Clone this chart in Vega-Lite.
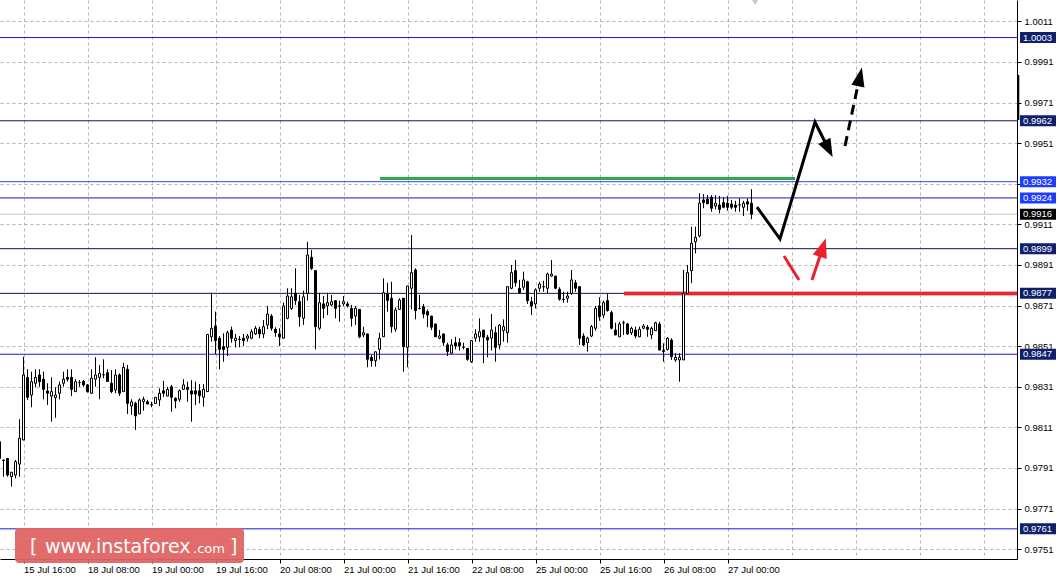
{
"$schema":"https://vega.github.io/schema/vega-lite/v6.json",
"width":1017,"height":559,
"autosize":{"type":"none"},
"padding":{"left":0,"top":0,"right":42,"bottom":19},
"background":"white",
"config":{"view":{"stroke":null},"font":"Liberation Sans"},
"datasets":{
"candles":[
{"i":-1,"o":0.98039,"h":0.98048,"l":0.97900,"c":0.97957},
{"i":0,"o":0.97949,"h":0.97950,"l":0.97867,"c":0.97947},
{"i":1,"o":0.97957,"h":0.97958,"l":0.97867,"c":0.97875},
{"i":2,"o":0.97867,"h":0.97889,"l":0.97818,"c":0.97889},
{"i":3,"o":0.97875,"h":0.97949,"l":0.97859,"c":0.97941},
{"i":4,"o":0.97929,"h":0.98150,"l":0.97867,"c":0.98056},
{"i":5,"o":0.98048,"h":0.98458,"l":0.98046,"c":0.98368},
{"i":6,"o":0.98356,"h":0.98396,"l":0.98245,"c":0.98258},
{"i":7,"o":0.98269,"h":0.98384,"l":0.98209,"c":0.98335},
{"i":8,"o":0.98327,"h":0.98396,"l":0.98307,"c":0.98356},
{"i":9,"o":0.98368,"h":0.98396,"l":0.98310,"c":0.98335},
{"i":10,"o":0.98347,"h":0.98384,"l":0.98248,"c":0.98297},
{"i":11,"o":0.98289,"h":0.98327,"l":0.98220,"c":0.98278},
{"i":12,"o":0.98264,"h":0.98356,"l":0.98138,"c":0.98286},
{"i":13,"o":0.98256,"h":0.98307,"l":0.98157,"c":0.98269},
{"i":14,"o":0.98278,"h":0.98335,"l":0.98248,"c":0.98319},
{"i":15,"o":0.98327,"h":0.98384,"l":0.98310,"c":0.98347},
{"i":16,"o":0.98356,"h":0.98396,"l":0.98335,"c":0.98347},
{"i":17,"o":0.98356,"h":0.98396,"l":0.98264,"c":0.98297},
{"i":18,"o":0.98286,"h":0.98347,"l":0.98285,"c":0.98335},
{"i":19,"o":0.98330,"h":0.98343,"l":0.98310,"c":0.98331},
{"i":20,"o":0.98337,"h":0.98343,"l":0.98310,"c":0.98319},
{"i":21,"o":0.98319,"h":0.98323,"l":0.98281,"c":0.98286},
{"i":22,"o":0.98278,"h":0.98396,"l":0.98274,"c":0.98352},
{"i":23,"o":0.98347,"h":0.98455,"l":0.98310,"c":0.98368},
{"i":24,"o":0.98356,"h":0.98417,"l":0.98248,"c":0.98376},
{"i":25,"o":0.98368,"h":0.98445,"l":0.98352,"c":0.98369},
{"i":26,"o":0.98379,"h":0.98396,"l":0.98335,"c":0.98336},
{"i":27,"o":0.98327,"h":0.98392,"l":0.98278,"c":0.98286},
{"i":28,"o":0.98294,"h":0.98396,"l":0.98278,"c":0.98368},
{"i":29,"o":0.98368,"h":0.98376,"l":0.98264,"c":0.98278},
{"i":30,"o":0.98286,"h":0.98428,"l":0.98285,"c":0.98406},
{"i":31,"o":0.98396,"h":0.98417,"l":0.98176,"c":0.98228},
{"i":32,"o":0.98215,"h":0.98248,"l":0.98171,"c":0.98236},
{"i":33,"o":0.98228,"h":0.98236,"l":0.98097,"c":0.98166},
{"i":34,"o":0.98176,"h":0.98253,"l":0.98175,"c":0.98245},
{"i":35,"o":0.98236,"h":0.98261,"l":0.98192,"c":0.98248},
{"i":36,"o":0.98236,"h":0.98245,"l":0.98224,"c":0.98225},
{"i":37,"o":0.98220,"h":0.98236,"l":0.98209,"c":0.98221},
{"i":38,"o":0.98228,"h":0.98259,"l":0.98227,"c":0.98258},
{"i":39,"o":0.98245,"h":0.98302,"l":0.98215,"c":0.98278},
{"i":40,"o":0.98290,"h":0.98340,"l":0.98261,"c":0.98278},
{"i":41,"o":0.98264,"h":0.98310,"l":0.98263,"c":0.98297},
{"i":42,"o":0.98310,"h":0.98319,"l":0.98187,"c":0.98258},
{"i":43,"o":0.98253,"h":0.98258,"l":0.98204,"c":0.98241},
{"i":44,"o":0.98248,"h":0.98297,"l":0.98236,"c":0.98290},
{"i":45,"o":0.98297,"h":0.98347,"l":0.98294,"c":0.98319},
{"i":46,"o":0.98307,"h":0.98335,"l":0.98236,"c":0.98297},
{"i":47,"o":0.98290,"h":0.98343,"l":0.98138,"c":0.98274},
{"i":48,"o":0.98290,"h":0.98335,"l":0.98220,"c":0.98274},
{"i":49,"o":0.98290,"h":0.98323,"l":0.98228,"c":0.98266},
{"i":50,"o":0.98258,"h":0.98323,"l":0.98212,"c":0.98297},
{"i":51,"o":0.98286,"h":0.98569,"l":0.98285,"c":0.98568},
{"i":52,"o":0.98556,"h":0.98773,"l":0.98532,"c":0.98598},
{"i":53,"o":0.98609,"h":0.98680,"l":0.98471,"c":0.98537},
{"i":54,"o":0.98549,"h":0.98560,"l":0.98396,"c":0.98494},
{"i":55,"o":0.98507,"h":0.98573,"l":0.98433,"c":0.98494},
{"i":56,"o":0.98504,"h":0.98586,"l":0.98461,"c":0.98576},
{"i":57,"o":0.98589,"h":0.98606,"l":0.98527,"c":0.98549},
{"i":58,"o":0.98537,"h":0.98570,"l":0.98504,"c":0.98549},
{"i":59,"o":0.98544,"h":0.98560,"l":0.98504,"c":0.98543},
{"i":60,"o":0.98549,"h":0.98570,"l":0.98511,"c":0.98537},
{"i":61,"o":0.98549,"h":0.98570,"l":0.98532,"c":0.98560},
{"i":62,"o":0.98549,"h":0.98593,"l":0.98544,"c":0.98581},
{"i":63,"o":0.98570,"h":0.98609,"l":0.98565,"c":0.98598},
{"i":64,"o":0.98593,"h":0.98606,"l":0.98549,"c":0.98570},
{"i":65,"o":0.98570,"h":0.98639,"l":0.98549,"c":0.98606},
{"i":66,"o":0.98614,"h":0.98708,"l":0.98593,"c":0.98668},
{"i":67,"o":0.98658,"h":0.98668,"l":0.98586,"c":0.98598},
{"i":68,"o":0.98593,"h":0.98603,"l":0.98556,"c":0.98576},
{"i":69,"o":0.98570,"h":0.98598,"l":0.98511,"c":0.98556},
{"i":70,"o":0.98549,"h":0.98724,"l":0.98548,"c":0.98708},
{"i":71,"o":0.98647,"h":0.98795,"l":0.98642,"c":0.98757},
{"i":72,"o":0.98696,"h":0.98795,"l":0.98688,"c":0.98753},
{"i":73,"o":0.98770,"h":0.98893,"l":0.98713,"c":0.98734},
{"i":74,"o":0.98729,"h":0.98762,"l":0.98606,"c":0.98655},
{"i":75,"o":0.98647,"h":0.98783,"l":0.98614,"c":0.98753},
{"i":76,"o":0.98770,"h":0.99024,"l":0.98734,"c":0.98959},
{"i":77,"o":0.98948,"h":0.98984,"l":0.98885,"c":0.98893},
{"i":78,"o":0.98882,"h":0.98885,"l":0.98494,"c":0.98606},
{"i":79,"o":0.98598,"h":0.98773,"l":0.98589,"c":0.98724},
{"i":80,"o":0.98718,"h":0.98757,"l":0.98647,"c":0.98696},
{"i":81,"o":0.98708,"h":0.98773,"l":0.98663,"c":0.98724},
{"i":82,"o":0.98713,"h":0.98762,"l":0.98708,"c":0.98729},
{"i":83,"o":0.98734,"h":0.98737,"l":0.98647,"c":0.98696},
{"i":84,"o":0.98708,"h":0.98734,"l":0.98630,"c":0.98707},
{"i":85,"o":0.98718,"h":0.98757,"l":0.98708,"c":0.98729},
{"i":86,"o":0.98718,"h":0.98729,"l":0.98701,"c":0.98708},
{"i":87,"o":0.98696,"h":0.98713,"l":0.98606,"c":0.98647},
{"i":88,"o":0.98658,"h":0.98708,"l":0.98614,"c":0.98696},
{"i":89,"o":0.98691,"h":0.98692,"l":0.98549,"c":0.98556},
{"i":90,"o":0.98565,"h":0.98606,"l":0.98554,"c":0.98576},
{"i":91,"o":0.98570,"h":0.98571,"l":0.98406,"c":0.98445},
{"i":92,"o":0.98455,"h":0.98466,"l":0.98409,"c":0.98438},
{"i":93,"o":0.98438,"h":0.98483,"l":0.98409,"c":0.98482},
{"i":94,"o":0.98494,"h":0.98576,"l":0.98445,"c":0.98549},
{"i":95,"o":0.98556,"h":0.98844,"l":0.98555,"c":0.98773},
{"i":96,"o":0.98767,"h":0.98822,"l":0.98680,"c":0.98734},
{"i":97,"o":0.98746,"h":0.98827,"l":0.98576,"c":0.98606},
{"i":98,"o":0.98593,"h":0.98701,"l":0.98581,"c":0.98688},
{"i":99,"o":0.98691,"h":0.98746,"l":0.98688,"c":0.98737},
{"i":100,"o":0.98746,"h":0.98747,"l":0.98384,"c":0.98507},
{"i":101,"o":0.98504,"h":0.98807,"l":0.98406,"c":0.98806},
{"i":102,"o":0.98795,"h":0.99057,"l":0.98691,"c":0.98872},
{"i":103,"o":0.98885,"h":0.98893,"l":0.98642,"c":0.98685},
{"i":104,"o":0.98696,"h":0.98762,"l":0.98691,"c":0.98695},
{"i":105,"o":0.98704,"h":0.98718,"l":0.98647,"c":0.98668},
{"i":106,"o":0.98680,"h":0.98691,"l":0.98603,"c":0.98663},
{"i":107,"o":0.98658,"h":0.98659,"l":0.98589,"c":0.98603},
{"i":108,"o":0.98619,"h":0.98620,"l":0.98554,"c":0.98556},
{"i":109,"o":0.98549,"h":0.98589,"l":0.98544,"c":0.98560},
{"i":110,"o":0.98570,"h":0.98571,"l":0.98511,"c":0.98527},
{"i":111,"o":0.98516,"h":0.98527,"l":0.98461,"c":0.98483},
{"i":112,"o":0.98475,"h":0.98544,"l":0.98471,"c":0.98516},
{"i":113,"o":0.98527,"h":0.98556,"l":0.98494,"c":0.98511},
{"i":114,"o":0.98527,"h":0.98549,"l":0.98488,"c":0.98511},
{"i":115,"o":0.98504,"h":0.98527,"l":0.98494,"c":0.98505},
{"i":116,"o":0.98499,"h":0.98500,"l":0.98438,"c":0.98445},
{"i":117,"o":0.98433,"h":0.98538,"l":0.98428,"c":0.98537},
{"i":118,"o":0.98549,"h":0.98593,"l":0.98532,"c":0.98570},
{"i":119,"o":0.98556,"h":0.98647,"l":0.98532,"c":0.98581},
{"i":120,"o":0.98589,"h":0.98590,"l":0.98425,"c":0.98554},
{"i":121,"o":0.98554,"h":0.98565,"l":0.98455,"c":0.98540},
{"i":122,"o":0.98549,"h":0.98668,"l":0.98488,"c":0.98589},
{"i":123,"o":0.98576,"h":0.98606,"l":0.98433,"c":0.98504},
{"i":124,"o":0.98516,"h":0.98619,"l":0.98494,"c":0.98614},
{"i":125,"o":0.98586,"h":0.98642,"l":0.98532,"c":0.98606},
{"i":126,"o":0.98576,"h":0.98804,"l":0.98527,"c":0.98803},
{"i":127,"o":0.98795,"h":0.98910,"l":0.98790,"c":0.98872},
{"i":128,"o":0.98882,"h":0.98934,"l":0.98803,"c":0.98822},
{"i":129,"o":0.98795,"h":0.98836,"l":0.98767,"c":0.98773},
{"i":130,"o":0.98800,"h":0.98877,"l":0.98787,"c":0.98836},
{"i":131,"o":0.98827,"h":0.98832,"l":0.98718,"c":0.98734},
{"i":132,"o":0.98729,"h":0.98753,"l":0.98663,"c":0.98708},
{"i":133,"o":0.98718,"h":0.98795,"l":0.98696,"c":0.98787},
{"i":134,"o":0.98795,"h":0.98827,"l":0.98778,"c":0.98816},
{"i":135,"o":0.98803,"h":0.98832,"l":0.98778,"c":0.98802},
{"i":136,"o":0.98795,"h":0.98872,"l":0.98770,"c":0.98865},
{"i":137,"o":0.98855,"h":0.98934,"l":0.98852,"c":0.98865},
{"i":138,"o":0.98855,"h":0.98856,"l":0.98790,"c":0.98795},
{"i":139,"o":0.98790,"h":0.98800,"l":0.98734,"c":0.98741},
{"i":140,"o":0.98741,"h":0.98778,"l":0.98724,"c":0.98740},
{"i":141,"o":0.98746,"h":0.98778,"l":0.98724,"c":0.98757},
{"i":142,"o":0.98770,"h":0.98885,"l":0.98762,"c":0.98836},
{"i":143,"o":0.98822,"h":0.98836,"l":0.98778,"c":0.98795},
{"i":144,"o":0.98803,"h":0.98804,"l":0.98516,"c":0.98549},
{"i":145,"o":0.98560,"h":0.98573,"l":0.98511,"c":0.98516},
{"i":146,"o":0.98527,"h":0.98556,"l":0.98483,"c":0.98549},
{"i":147,"o":0.98560,"h":0.98614,"l":0.98554,"c":0.98606},
{"i":148,"o":0.98598,"h":0.98708,"l":0.98586,"c":0.98696},
{"i":149,"o":0.98708,"h":0.98751,"l":0.98635,"c":0.98655},
{"i":150,"o":0.98663,"h":0.98734,"l":0.98647,"c":0.98724},
{"i":151,"o":0.98734,"h":0.98767,"l":0.98680,"c":0.98685},
{"i":152,"o":0.98675,"h":0.98685,"l":0.98593,"c":0.98598},
{"i":153,"o":0.98589,"h":0.98625,"l":0.98564,"c":0.98565},
{"i":154,"o":0.98556,"h":0.98630,"l":0.98554,"c":0.98619},
{"i":155,"o":0.98625,"h":0.98635,"l":0.98565,"c":0.98624},
{"i":156,"o":0.98619,"h":0.98625,"l":0.98565,"c":0.98570},
{"i":157,"o":0.98576,"h":0.98606,"l":0.98565,"c":0.98598},
{"i":158,"o":0.98589,"h":0.98606,"l":0.98549,"c":0.98560},
{"i":159,"o":0.98556,"h":0.98606,"l":0.98554,"c":0.98593},
{"i":160,"o":0.98598,"h":0.98619,"l":0.98593,"c":0.98609},
{"i":161,"o":0.98603,"h":0.98614,"l":0.98556,"c":0.98593},
{"i":162,"o":0.98565,"h":0.98606,"l":0.98544,"c":0.98598},
{"i":163,"o":0.98586,"h":0.98630,"l":0.98585,"c":0.98625},
{"i":164,"o":0.98619,"h":0.98630,"l":0.98488,"c":0.98491},
{"i":165,"o":0.98488,"h":0.98524,"l":0.98433,"c":0.98483},
{"i":166,"o":0.98494,"h":0.98554,"l":0.98488,"c":0.98549},
{"i":167,"o":0.98540,"h":0.98549,"l":0.98442,"c":0.98458},
{"i":168,"o":0.98442,"h":0.98475,"l":0.98433,"c":0.98455},
{"i":169,"o":0.98442,"h":0.98475,"l":0.98335,"c":0.98455},
{"i":170,"o":0.98442,"h":0.98885,"l":0.98441,"c":0.98770},
{"i":171,"o":0.98770,"h":0.98910,"l":0.98769,"c":0.98872},
{"i":172,"o":0.98882,"h":0.99098,"l":0.98820,"c":0.99017},
{"i":173,"o":0.99024,"h":0.99098,"l":0.98967,"c":0.99046},
{"i":174,"o":0.99053,"h":0.99263,"l":0.99046,"c":0.99214},
{"i":175,"o":0.99230,"h":0.99259,"l":0.99189,"c":0.99217},
{"i":176,"o":0.99233,"h":0.99254,"l":0.99210,"c":0.99211},
{"i":177,"o":0.99243,"h":0.99254,"l":0.99172,"c":0.99189},
{"i":178,"o":0.99200,"h":0.99254,"l":0.99184,"c":0.99214},
{"i":179,"o":0.99205,"h":0.99250,"l":0.99164,"c":0.99184},
{"i":180,"o":0.99217,"h":0.99243,"l":0.99189,"c":0.99194},
{"i":181,"o":0.99214,"h":0.99250,"l":0.99177,"c":0.99194},
{"i":182,"o":0.99210,"h":0.99230,"l":0.99184,"c":0.99194},
{"i":183,"o":0.99205,"h":0.99226,"l":0.99172,"c":0.99194},
{"i":184,"o":0.99205,"h":0.99238,"l":0.99172,"c":0.99206},
{"i":185,"o":0.99194,"h":0.99226,"l":0.99151,"c":0.99214},
{"i":186,"o":0.99221,"h":0.99238,"l":0.99177,"c":0.99210},
{"i":187,"o":0.99214,"h":0.99283,"l":0.99135,"c":0.99160}
],
"levels":[
{"p":1.0003,"line":"A","tag":"N"},
{"p":0.9962,"line":"D","tag":"N"},
{"p":0.9932,"line":"B","tag":"B"},
{"p":0.9924,"line":"A","tag":"B"},
{"p":0.9916,"line":"G","tag":"K"},
{"p":0.9899,"line":"D","tag":"N"},
{"p":0.9877,"line":"D","tag":"N"},
{"p":0.9847,"line":"A","tag":"N"},
{"p":0.9761,"line":"A","tag":"N"}
],
"zones":[
{"zone":"green","x":94.125,"x2":197.875,"p":0.99336},
{"zone":"red","x":155.125,"x2":253.375,"p":0.98769}
],
"solid":[
{"k":0,"x":188.375,"y":0.99195},
{"k":1,"x":194.125,"y":0.99038},
{"k":2,"x":202.875,"y":0.99614},
{"k":3,"x":206.25,"y":0.99481}
],
"dashed":[
{"k":0,"x":210.375,"y":0.99496},
{"k":1,"x":213.5,"y":0.99786}
],
"red1":[
{"k":0,"x":195.125,"y":0.98954},
{"k":1,"x":198.875,"y":0.98836}
],
"red2":[
{"k":0,"x":202.125,"y":0.98836},
{"k":1,"x":204.825,"y":0.98996}
]
},
"layer":[
{"data":{"name":"levels"},
 "mark":{"type":"rule","strokeWidth":1},
 "encoding":{
  "y":{"field":"p","type":"quantitative","title":null,"scale":{"domain":[0.974614,1.00215],"nice":false,"zero":false,"padding":0},
   "axis":{"orient":"right","title":null,"values":[0.9751,0.9771,0.9791,0.9811,0.9831,0.9851,0.9871,0.9891,0.9911,0.9931,0.9951,0.9971,0.9991,1.0011],"format":".4f","grid":true,"gridDash":[3,3],"gridColor":"#b4b4b4","tickSize":4,"tickColor":"black","domainColor":"black","labelPadding":3,"labelFontSize":9.5,"labelFont":"Liberation Sans","labelColor":"black","labelOverlap":false,"labelFlush":false}},
  "stroke":{"field":"line","type":"nominal","scale":{"domain":["A","B","D","G"],"range":["#1818d0","#2848ff","#141450","#c4c4c4"]},"legend":null}
 }},
{"data":{"name":"zones"},
 "transform":[{"filter":"datum.zone == 'green'"}],
 "mark":{"type":"rule","strokeWidth":3,"color":"#2daa4a"},
 "encoding":{
  "x":{"field":"x","type":"quantitative","title":null,"scale":{"domain":[-0.875,253.375],"nice":false,"zero":false,"padding":0}},
  "x2":{"field":"x2"},
  "y":{"field":"p","type":"quantitative","title":null}
 }},
{"data":{"name":"zones"},
 "transform":[{"filter":"datum.zone == 'red'"}],
 "mark":{"type":"rule","strokeWidth":5,"color":"#f59aa0","opacity":0.8},
 "encoding":{
  "x":{"field":"x","type":"quantitative","title":null},
  "x2":{"field":"x2"},
  "y":{"field":"p","type":"quantitative","title":null}
 }},
{"data":{"name":"zones"},
 "transform":[{"filter":"datum.zone == 'red'"}],
 "mark":{"type":"rule","strokeWidth":3,"color":"#ea2530"},
 "encoding":{
  "x":{"field":"x","type":"quantitative","title":null},
  "x2":{"field":"x2"},
  "y":{"field":"p","type":"quantitative","title":null}
 }},
{"data":{"name":"candles"},
 "mark":{"type":"rule","color":"black","strokeWidth":1,"clip":true},
 "encoding":{
  "x":{"field":"i","type":"quantitative","title":null,"scale":{"domain":[-0.875,253.375],"nice":false,"zero":false,"padding":0},
   "axis":{"orient":"bottom","title":null,"values":[5,13,21,29,37,45,53,61,69,77,85,93,101,109,117,125,133,141,149,157,165,173,181,189,197,205,213,221,229,237,245,253],
    "grid":true,"gridDash":[3,3],"gridColor":"#b4b4b4","domainColor":"black","tickColor":"black","tickSize":4,
    "tickOpacity":{"condition":{"test":"(datum.value - 5) % 16 == 0 && datum.value <= 181","value":1},"value":0},
    "labelExpr":"(datum.value - 5) % 16 == 0 && datum.value <= 181 ? ['15 Jul 16:00','18 Jul 08:00','19 Jul 00:00','19 Jul 16:00','20 Jul 08:00','21 Jul 00:00','21 Jul 16:00','22 Jul 08:00','25 Jul 00:00','25 Jul 16:00','26 Jul 08:00','27 Jul 00:00'][(datum.value - 5) / 16] : ''",
    "labelAlign":"left","labelBaseline":"top","labelPadding":1,"labelFont":"Liberation Sans","labelFontSize":9.5,"labelColor":"black","labelOverlap":false,"labelFlush":false}},
  "y":{"field":"l","type":"quantitative","title":null},
  "y2":{"field":"h"}
 }},
{"data":{"name":"candles"},
 "mark":{"type":"bar","width":2,"stroke":"black","strokeWidth":1,"clip":true},
 "encoding":{
  "x":{"field":"i","type":"quantitative","title":null},
  "y":{"field":"o","type":"quantitative","title":null},
  "y2":{"field":"c"},
  "fill":{"condition":{"test":"datum.c >= datum.o","value":"white"},"value":"black"}
 }},
{"data":{"name":"solid"},
 "mark":{"type":"line","color":"black","strokeWidth":3},
 "encoding":{
  "x":{"field":"x","type":"quantitative","title":null},
  "y":{"field":"y","type":"quantitative","title":null},
  "order":{"field":"k"}
 }},
{"data":{"name":"dashed"},
 "mark":{"type":"line","color":"black","strokeWidth":3,"strokeDash":[10,6]},
 "encoding":{
  "x":{"field":"x","type":"quantitative","title":null},
  "y":{"field":"y","type":"quantitative","title":null},
  "order":{"field":"k"}
 }},
{"data":{"name":"red1"},
 "mark":{"type":"line","color":"#ee2030","strokeWidth":3},
 "encoding":{
  "x":{"field":"x","type":"quantitative","title":null},
  "y":{"field":"y","type":"quantitative","title":null},
  "order":{"field":"k"}
 }},
{"data":{"name":"red2"},
 "mark":{"type":"line","color":"#ee2030","strokeWidth":3},
 "encoding":{
  "x":{"field":"x","type":"quantitative","title":null},
  "y":{"field":"y","type":"quantitative","title":null},
  "order":{"field":"k"}
 }},
{"data":{"values":[{"x":206.25,"y":0.99481}]},
 "mark":{"type":"point","shape":"M0,-1L-0.75,1L0.75,1Z","filled":true,"color":"black","size":330,"angle":153,"opacity":1},
 "encoding":{"x":{"field":"x","type":"quantitative","title":null},"y":{"field":"y","type":"quantitative","title":null}}},
{"data":{"values":[{"x":214.1,"y":0.99837}]},
 "mark":{"type":"point","shape":"M0,-1L-0.7,1L0.7,1Z","filled":true,"color":"black","size":360,"angle":12,"opacity":1},
 "encoding":{"x":{"field":"x","type":"quantitative","title":null},"y":{"field":"y","type":"quantitative","title":null}}},
{"data":{"values":[{"x":204.825,"y":0.98996}]},
 "mark":{"type":"point","shape":"M0,-1L-0.75,1L0.75,1Z","filled":true,"color":"#ee2030","size":380,"angle":18,"opacity":1},
 "encoding":{"x":{"field":"x","type":"quantitative","title":null},"y":{"field":"y","type":"quantitative","title":null}}},
{"data":{"values":[{"x":187.9,"y":1.00205}]},
 "mark":{"type":"point","shape":"triangle-down","filled":true,"color":"#c8c8c8","size":50,"opacity":1},
 "encoding":{"x":{"field":"x","type":"quantitative","title":null},"y":{"field":"y","type":"quantitative","title":null}}},
{"data":{"name":"levels"},
 "mark":{"type":"bar","orient":"horizontal","height":11},
 "encoding":{
  "x":{"datum":254.125,"type":"quantitative","title":null},
  "x2":{"datum":263.125},
  "y":{"field":"p","type":"quantitative","title":null},
  "fill":{"field":"tag","type":"nominal","scale":{"domain":["N","B","K"],"range":["#0f1f6e","#1e3cff","#000000"]},"legend":null}
 }},
{"data":{"name":"levels"},
 "mark":{"type":"text","align":"left","baseline":"middle","fontSize":9.5,"font":"Liberation Sans","color":"white"},
 "encoding":{
  "x":{"datum":254.9,"type":"quantitative","title":null},
  "y":{"field":"p","type":"quantitative","title":null},
  "text":{"field":"p","type":"quantitative","format":".4f"}
 }},
{"data":{"values":[{"x":253.7,"y":0.99846,"y2":0.99624}]},
 "mark":{"type":"rule","color":"black","strokeWidth":2},
 "encoding":{"x":{"field":"x","type":"quantitative","title":null},"y":{"field":"y","type":"quantitative","title":null},"y2":{"field":"y2"}}},
{"data":{"values":[{"x":2.875,"x2":60.125,"y":0.97614,"y2":0.97442}]},
 "mark":{"type":"rect","cornerRadius":4,"color":"#e06464","opacity":0.95},
 "encoding":{"x":{"field":"x","type":"quantitative","title":null},"x2":{"field":"x2"},"y":{"field":"y","type":"quantitative","title":null},"y2":{"field":"y2"}}},
{"data":{"values":[{"t":"[","x":6.625,"y":0.97491},{"t":"www.instaforex","x":10.375,"y":0.97491},{"t":"]","x":56.625,"y":0.97491}]},
 "mark":{"type":"text","align":"left","baseline":"alphabetic","fontSize":19,"font":"DejaVu Sans","color":"white"},
 "encoding":{"x":{"field":"x","type":"quantitative","title":null},"y":{"field":"y","type":"quantitative","title":null},"text":{"field":"t"}}},
{"data":{"values":[{"t":".com","x":47.375,"y":0.97491}]},
 "mark":{"type":"text","align":"left","baseline":"alphabetic","fontSize":13,"font":"DejaVu Sans","color":"white"},
 "encoding":{"x":{"field":"x","type":"quantitative","title":null},"y":{"field":"y","type":"quantitative","title":null},"text":{"field":"t"}}}
]
}
